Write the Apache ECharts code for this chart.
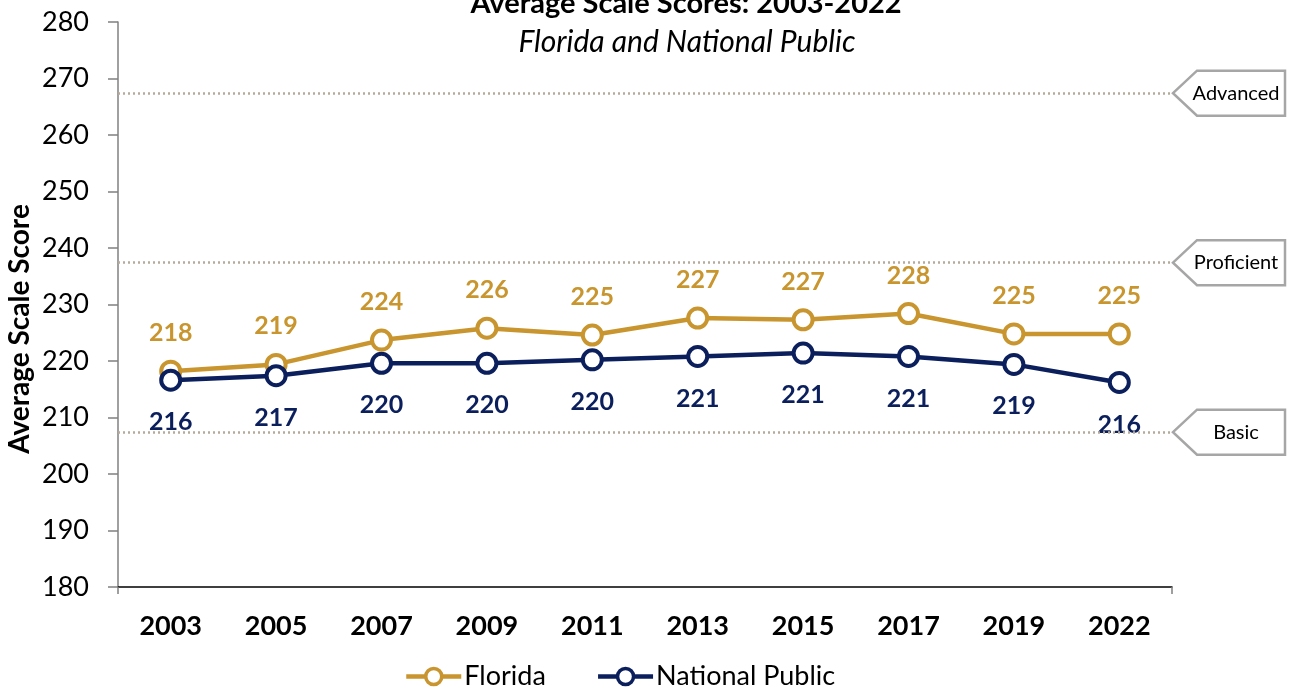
<!DOCTYPE html>
<html><head><meta charset="utf-8">
<script src="https://cdn.jsdelivr.net/npm/echarts@6/dist/echarts.min.js"></script>
<style>html,body{margin:0;padding:0;background:#fff}#c{width:1289px;height:690px}</style>
</head><body><div id="c"></div>
<script>
const years = ['2003','2005','2007','2009','2011','2013','2015','2017','2019','2022'];
const florida = [218.2, 219.4, 223.7, 225.8, 224.6, 227.6, 227.3, 228.4, 224.8, 224.8];
const floridaLabels = ['218','219','224','226','225','227','227','228','225','225'];
const national = [216.6, 217.4, 219.6, 219.6, 220.2, 220.8, 221.4, 220.8, 219.4, 216.2];
const nationalLabels = ['216','217','220','220','220','221','221','221','219','216'];
const levelNames = ['Basic','Proficient','Advanced'];
const levelScores = [207.4, 237.4, 267.4];
const yMin = 180, yMax = 280, yStep = 10;

const GOLD = '#C8952E', NAVY = '#0B1F5C';
const FONT = 'Lato, "Open Sans", sans-serif';

const chart = echarts.init(document.getElementById('c'));
const option = {
  backgroundColor: '#fff',
  animation: false,
  title: [
    {text: 'Average Scale Scores: 2003-2022', left: 681, textAlign: 'center', top: -16,
     textStyle: {fontFamily: FONT, fontSize: 29, fontWeight: 'bold', color: '#000'}},
    {text: 'Florida and National Public', left: 682, textAlign: 'center', top: 22,
     textStyle: {fontFamily: FONT, fontSize: 30, fontWeight: 'normal', fontStyle: 'italic', color: '#000'}}
  ],
  grid: {left: 118, right: 117, top: 22, bottom: 103, containLabel: false},
  legend: {
    left: 399, top: 658, itemWidth: 55, itemHeight: 20, itemGap: 50,
    lineStyle: {width: 4.5},
    itemStyle: {borderWidth: 3.5},
    textStyle: {fontFamily: FONT, fontSize: 27, color: '#000', padding: [0,0,0,-2]},
    data: ['Florida', 'National Public']
  },
  xAxis: [{
    type: 'category', data: years, boundaryGap: true,
    axisLine: {lineStyle: {color: '#000', width: 1.5}},
    axisTick: {alignWithLabel: true, length: 7, lineStyle: {color: '#808080', width: 1.5}},
    axisLabel: {fontFamily: FONT, fontSize: 27, fontWeight: 'bold', color: '#000', margin: 26}
  }, {
    type: 'value', min: 0, max: 1, interval: 1, position: 'bottom',
    axisLine: {show: false}, splitLine: {show: false}, axisLabel: {show: false},
    axisTick: {show: true, length: 7, lineStyle: {color: '#808080', width: 1.5}}
  }],
  yAxis: {
    type: 'value', min: yMin, max: yMax, interval: yStep,
    axisLine: {show: true, lineStyle: {color: '#808080', width: 1.5}},
    axisTick: {show: true, length: 10, lineStyle: {color: '#808080', width: 1.5}},
    splitLine: {show: false},
    axisLabel: {fontFamily: FONT, fontSize: 27, color: '#000', margin: 29}
  },
  series: [
    {
      name: 'Florida', type: 'line', data: florida, z: 3,
      symbol: 'circle', symbolSize: 19, showAllSymbol: true,
      lineStyle: {color: GOLD, width: 4.5},
      itemStyle: {color: '#fff', borderColor: GOLD, borderWidth: 4},
      label: {show: true, position: 'top', distance: 14, formatter: p => floridaLabels[p.dataIndex],
        fontFamily: FONT, fontSize: 25, fontWeight: 'bold', color: GOLD},
      markLine: {
        silent: true, symbol: 'none', label: {show: false},
        lineStyle: {color: '#B5AB9C', width: 2.5, type: [2, 3]},
        data: levelScores.map(v => ({yAxis: v}))
      }
    },
    {
      name: 'National Public', type: 'line', data: national, z: 4,
      symbol: 'circle', symbolSize: 19, showAllSymbol: true,
      lineStyle: {color: NAVY, width: 4.5},
      itemStyle: {color: '#fff', borderColor: NAVY, borderWidth: 4},
      label: {show: true, position: 'bottom', distance: 18, formatter: p => nationalLabels[p.dataIndex],
        fontFamily: FONT, fontSize: 25, fontWeight: 'bold', color: NAVY}
    }
  ]
};
chart.setOption(option);

// annotations: y-axis title and level tags
const gridRight = chart.getWidth() - 117;
const graphics = [{
  type: 'text', x: 20, y: 329, rotation: Math.PI / 2,
  style: {text: 'Average Scale Score', fontFamily: FONT, fontSize: 28, fontWeight: 'bold',
    fill: '#000', align: 'center', verticalAlign: 'middle'}
}];
levelNames.forEach((name, i) => {
  const y = chart.convertToPixel({yAxisIndex: 0}, levelScores[i]);
  const tip = gridRight + 1, x1 = tip + 24, x2 = chart.getWidth() - 4, h = 22.5;
  graphics.push({
    type: 'polygon', z: 10,
    shape: {points: [[tip, y], [x1, y - h], [x2, y - h], [x2, y + h], [x1, y + h]]},
    style: {fill: '#fff', stroke: '#A6A6A6', lineWidth: 2.5}
  });
  graphics.push({
    type: 'text', z: 11, x: (tip + 14 + x2) / 2, y: y,
    style: {text: name, fontFamily: FONT, fontSize: 20, fill: '#000', align: 'center', verticalAlign: 'middle'}
  });
});
chart.setOption({graphic: graphics});
</script></body></html>
